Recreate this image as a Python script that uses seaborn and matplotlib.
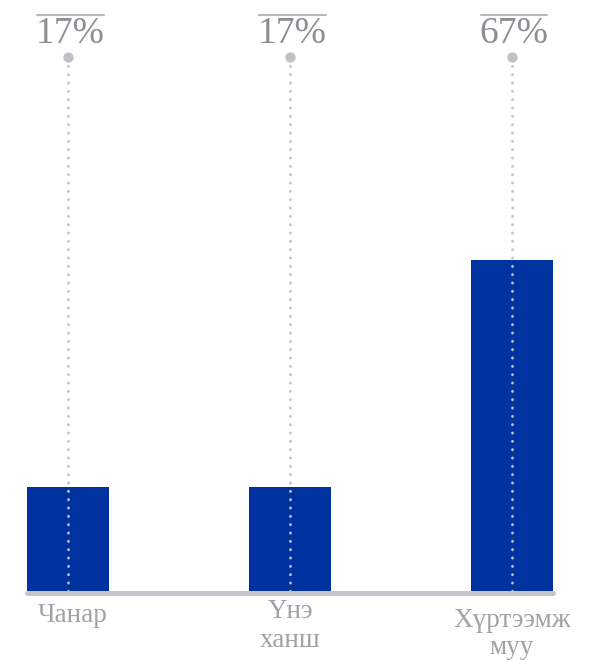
import numpy as np
import pandas as pd
import seaborn as sns
import matplotlib
matplotlib.use("Agg")
import matplotlib.pyplot as plt
from matplotlib.lines import Line2D
from matplotlib.transforms import IdentityTransform, blended_transform_factory, offset_copy

# ---- data ----
categories = ["Чанар", "Үнэ\nханш", "Хүртээмж\nмуу"]
values = [17, 17, 67]
value_labels = ["17%", "17%", "67%"]

# ---- style ----
BAR_COLOR = "#0033a0"
GRID_COLOR = "#c4c4ca"
PCT_COLOR = "#8e8e94"
CAT_COLOR = "#a2a2a6"
SERIF = ["Liberation Serif", "DejaVu Serif"]

sns.set_style("white")

W, H = 592, 661
fig = plt.figure(figsize=(W / 100, H / 100), dpi=100)
ax_left, ax_right, ax_top, ax_bot = 27, 553, 57, 591
ax = fig.add_axes([ax_left / W, (H - ax_bot) / H, (ax_right - ax_left) / W, (ax_bot - ax_top) / H])

df = pd.DataFrame({"cat": categories, "val": values})
sns.barplot(data=df, x="cat", y="val", color=BAR_COLOR, saturation=1, width=0.37, ax=ax, zorder=2)

base = -5.9
top = base + (ax_bot - ax_top) / 4.54
for p in ax.patches:
    h = p.get_y() + p.get_height()
    p.set_y(base)
    p.set_height(h - base)
    p.set_linewidth(0)

n = len(categories)
ax.set_xlim(-0.185, n - 1 + 0.185)
ax.set_ylim(base, top)

xs = np.arange(n)
# baseline
ax.axhline(base - 0.55, color=GRID_COLOR, lw=3.6, zorder=1, clip_on=False)
# dotted guides
ax.vlines(xs, base, top, colors="#c2c2c8", lw=2.0, linestyles=(0, (0.1, 2.9)), zorder=3)
for coll in ax.collections:
    coll.set_capstyle("round")
ax.scatter(xs, [top] * n, s=55, color="#c0c0c6", zorder=4, clip_on=False, linewidths=0)

# percent labels
pct_texts = []
for x, lab in zip(xs, value_labels):
    t = ax.annotate(lab, (x, top), xytext=(1.5, 10.2), textcoords="offset points",
                    ha="center", va="baseline", fontsize=27, color=PCT_COLOR,
                    family=SERIF, annotation_clip=False)
    pct_texts.append(t)

# category labels (line by line)
trans = blended_transform_factory(ax.transData, ax.transAxes)
first_offsets = [31, 27, 36]
line_gaps = [29, 29, 27]
for x, cat, off, gap in zip(xs, categories, first_offsets, line_gaps):
    for k, line in enumerate(cat.split("\n")):
        tr = offset_copy(trans, fig=fig, x=3 if k == 0 and x == 0 else 0,
                         y=-(off + k * gap) * 72 / 100, units="points")
        ax.text(x, 0, line, transform=tr, ha="center", va="baseline",
                fontsize=19.5, color=CAT_COLOR, family=SERIF)

ax.set_xticks([])
ax.set_yticks([])
ax.set_xlabel("")
ax.set_ylabel("")
sns.despine(ax=ax, left=True, bottom=True)

# overlines above percent labels
fig.canvas.draw()
renderer = fig.canvas.get_renderer()
y_line = H - 15
for t in pct_texts:
    bb = t.get_window_extent(renderer)
    fig.lines.append(Line2D([bb.x0 + 1, bb.x1 - 1], [y_line, y_line], transform=IdentityTransform(),
                            color="#b6b6bc", lw=1.5))

fig.savefig("out.png", dpi=100)
